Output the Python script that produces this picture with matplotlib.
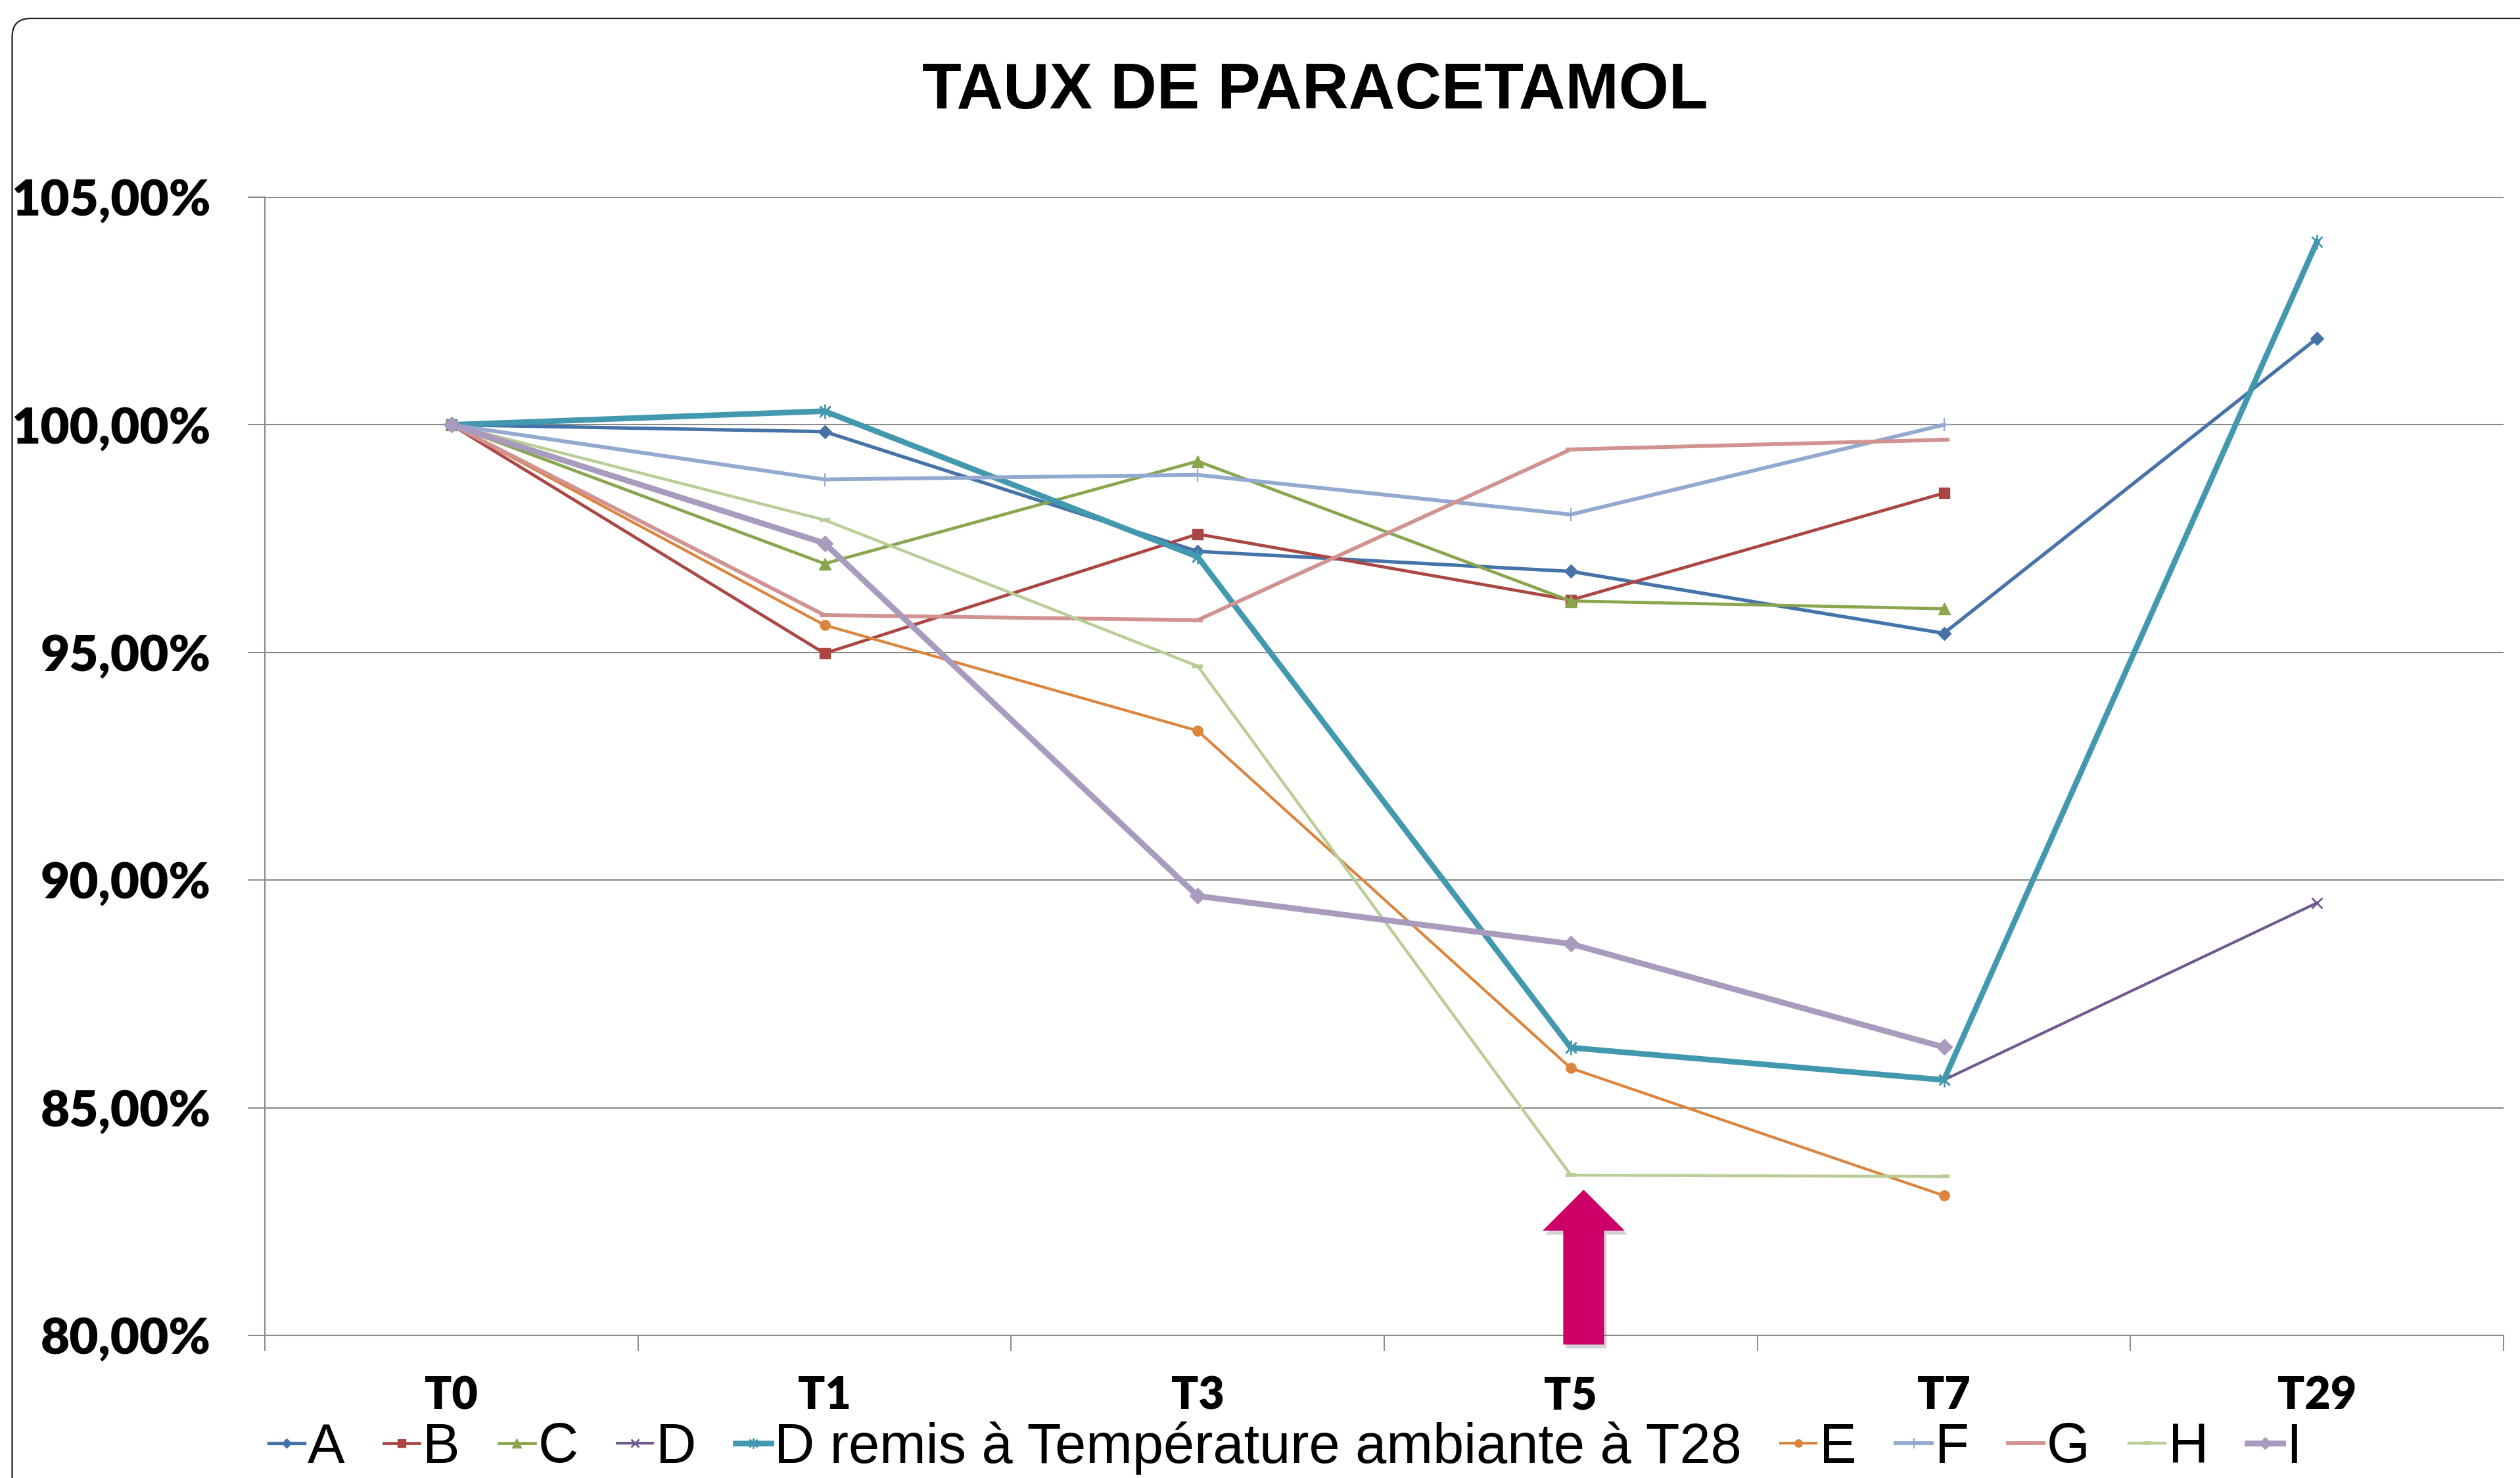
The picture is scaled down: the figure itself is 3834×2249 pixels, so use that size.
import numpy as np
import matplotlib
matplotlib.use('Agg')
import matplotlib.pyplot as plt
from matplotlib.patches import Polygon, FancyBboxPatch
from matplotlib.path import Path
import matplotlib.transforms as mtransforms

# ---------------- data ----------------
categories = ['T0', 'T1', 'T3', 'T5', 'T7', 'T29']
nan = np.nan
A = [100.0, 99.85, 97.22, 96.78, 95.42, 101.90]
B = [100.0, 94.98, 97.60, 96.15, 98.50, nan]
C = [100.0, 96.95, 99.20, 96.13, 95.96, nan]
D = [100.0, 100.30, 97.10, 86.32, 85.61, 89.50]
D_remis = [100.0, 100.30, 97.10, 86.32, 85.61, 104.02]
E = [100.0, 95.60, 93.28, 85.87, 83.07, nan]
F = [100.0, 98.80, 98.90, 98.03, 100.0, nan]
G = [100.0, 95.82, 95.71, 99.46, 99.67, nan]
H = [100.0, 97.91, 94.70, 83.52, 83.49, nan]
I = [100.0, 97.40, 89.65, 88.60, 86.33, nan]

series_names = ['A', 'B', 'C', 'D', 'D remis à Température ambiante à T28',
                'E', 'F', 'G', 'H', 'I']
series_values = [A, B, C, D, D_remis, E, F, G, H, I]
y_ticks = [80, 85, 90, 95, 100, 105]
y_tick_labels = ['80,00%', '85,00%', '90,00%', '95,00%', '100,00%', '105,00%']
title = 'TAUX DE PARACETAMOL'

# ---------------- styles ----------------
asterisk = Path([(0, -1), (0, 1), (-0.72, -0.72), (0.72, 0.72), (-0.72, 0.72), (0.72, -0.72)],
                [Path.MOVETO, Path.LINETO, Path.MOVETO, Path.LINETO, Path.MOVETO, Path.LINETO])
colors = ['#4572A7', '#AA4643', '#89A54E', '#71588F', '#4198AF',
          '#DB843D', '#93A9CF', '#D19392', '#B9CD96', '#A99BBD']
markers = ['D', 's', '^', 'x', asterisk, 'o', '+', '_', '_', 'D']
msizes = [10, 12, 13, 12, 16, 11, 15, 12, 12, 12]
mews = [1, 1, 1, 2.0, 2.0, 1, 1.6, 4.2, 4.2, 1]
lws = [3.8, 3.4, 3.4, 3.0, 6.2, 3.0, 4.2, 4.2, 3.2, 6.4]

W, H_PX = 3834, 2249
fig = plt.figure(figsize=(W / 100, H_PX / 100), dpi=100)
fig.patch.set_facecolor('white')

# chart border (rounded)
border = FancyBboxPatch((0.185, -0.6), 40.0, 22.49 - 0.28 + 0.6,
                        boxstyle='round,pad=0,rounding_size=0.28',
                        transform=fig.dpi_scale_trans, facecolor='none',
                        edgecolor='#222222', linewidth=1.6)
fig.patches.append(border)

ax_left, ax_right = 403 / W, 3809 / W
ax_bottom, ax_top = 1 - 2032 / H_PX, 1 - 300 / H_PX
ax = fig.add_axes([ax_left, ax_bottom, ax_right - ax_left, ax_top - ax_bottom])
ax.set_facecolor('none')

x = np.arange(len(categories))
lines = []
for i, (name, vals) in enumerate(zip(series_names, series_values)):
    ln, = ax.plot(x, vals, color=colors[i], lw=lws[i], marker=markers[i],
                  markersize=msizes[i], markeredgewidth=mews[i],
                  markerfacecolor=colors[i], markeredgecolor=colors[i],
                  label=name, zorder=3 + i, clip_on=False,
                  solid_joinstyle='round')
    lines.append(ln)

ax.set_xlim(-0.5, len(categories) - 0.5)
ax.set_ylim(80, 105)

grid_col = '#898989'
ax.set_yticks(y_ticks)
ax.set_yticklabels(y_tick_labels, fontfamily='Lato', fontweight='heavy', fontsize=55)
ax.yaxis.grid(True, color=grid_col, lw=1.5, zorder=0)
ax.set_axisbelow(True)
ax.tick_params(axis='y', length=19, width=1.4, color=grid_col, pad=40)

ax.set_xticks(x)
ax.set_xticklabels(categories, fontfamily='Lato', fontweight='heavy', fontsize=49)
ax.set_xticks(np.arange(-0.5, len(categories), 1.0), minor=True)
ax.tick_params(axis='x', which='major', length=0, pad=44)
ax.tick_params(axis='x', which='minor', length=17, width=1.4, color=grid_col)

for s in ['top', 'right']:
    ax.spines[s].set_visible(False)
for s in ['left', 'bottom']:
    ax.spines[s].set_color(grid_col)
    ax.spines[s].set_linewidth(1.5)

# title
fig.text(2001 / W, 1 - 139 / H_PX, title, ha='center', va='center',
         fontsize=70.5, fontweight='bold', fontfamily='Liberation Sans')

# magenta arrow annotation (in data coords)
arrow_x = 3.0345
arrow_tip, arrow_head_base, arrow_bottom = 83.20, 82.30, 79.80
head_hw, shaft_hw = 0.110, 0.0547
arrow_pts = [(arrow_x, arrow_tip), (arrow_x + head_hw, arrow_head_base),
             (arrow_x + shaft_hw, arrow_head_base), (arrow_x + shaft_hw, arrow_bottom),
             (arrow_x - shaft_hw, arrow_bottom), (arrow_x - shaft_hw, arrow_head_base),
             (arrow_x - head_hw, arrow_head_base)]
shadow_tr = mtransforms.offset_copy(ax.transData, fig=fig, x=4, y=-6, units='dots')
ax.add_patch(Polygon(arrow_pts, closed=True, facecolor='#555555', alpha=0.25,
                     edgecolor='none', transform=shadow_tr, clip_on=False, zorder=19))
ax.add_patch(Polygon(arrow_pts, closed=True, facecolor='#CC0066',
                     edgecolor='none', clip_on=False, zorder=20))

# legend
fig.legend(lines, series_names, ncol=10, loc='center left',
           bbox_to_anchor=(409 / W, 1 - 2203 / H_PX), frameon=False,
           prop={'family': 'Liberation Sans', 'size': 61},
           handlelength=0.64, handletextpad=0.06, columnspacing=0.7,
           borderpad=0, borderaxespad=0, markerscale=0.75)

fig.savefig('out.png', dpi=100, facecolor='white')
